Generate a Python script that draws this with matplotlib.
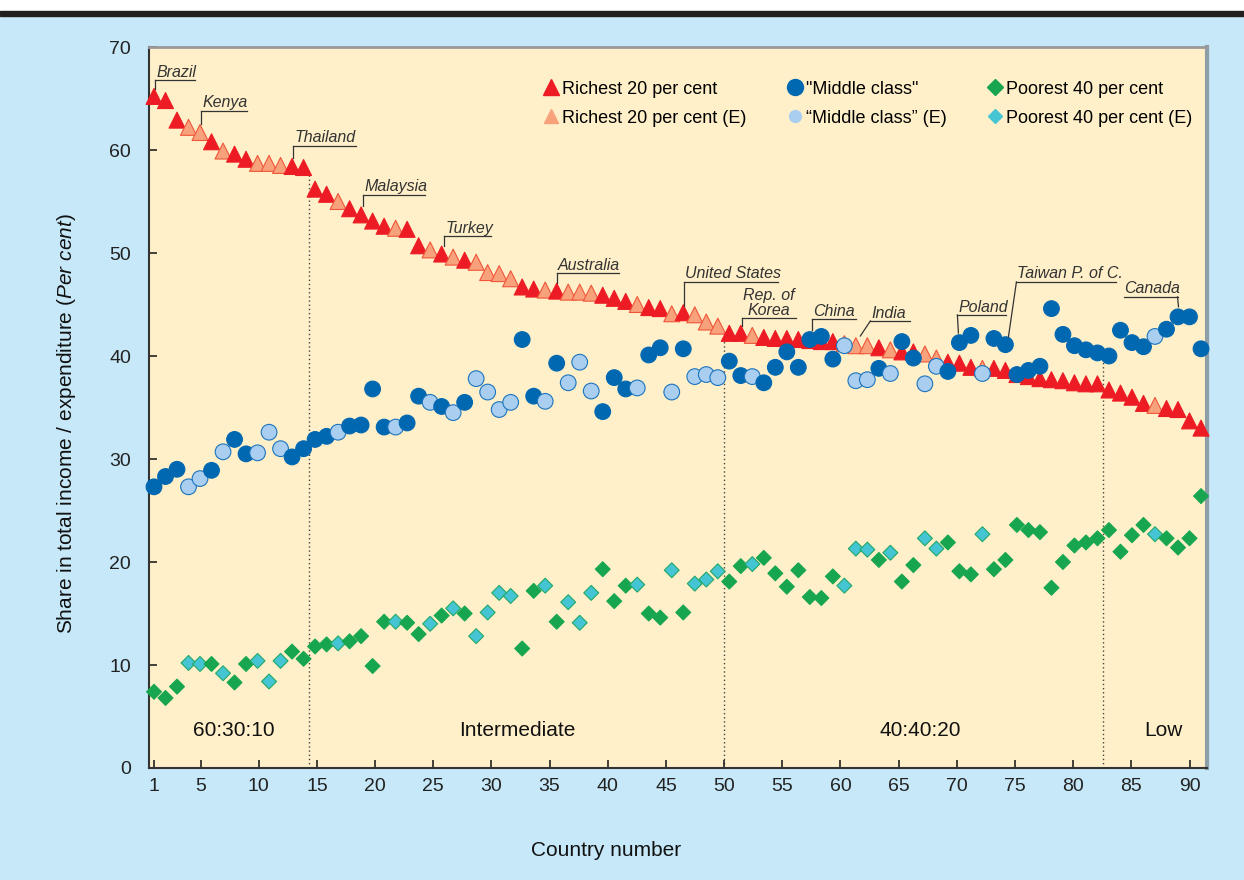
import matplotlib
matplotlib.use("Agg")
import matplotlib.pyplot as plt
import numpy as np
from matplotlib.lines import Line2D
from matplotlib.legend import Legend
from matplotlib.patches import Rectangle

plt.rcParams['font.family'] = ['Liberation Sans', 'DejaVu Sans']
plt.rcParams['mathtext.fontset'] = 'custom'
plt.rcParams['mathtext.rm'] = 'Liberation Sans'
plt.rcParams['mathtext.it'] = 'Liberation Sans:italic'

# shares in per cent, country 1..92 (sorted by share of richest 20%)
richest = [65.2, 64.8, 62.9, 62.2, 61.7, 60.8, 59.9, 59.6, 59.1, 58.7,
           58.7, 58.5, 58.4, 58.3, 56.2, 55.7, 55.0, 54.3, 53.7, 53.1,
           52.6, 52.4, 52.3, 50.7, 50.3, 49.9, 49.6, 49.3, 49.1, 48.1,
           48.0, 47.5, 46.7, 46.5, 46.4, 46.3, 46.2, 46.2, 46.1, 45.9,
           45.6, 45.3, 45.0, 44.7, 44.6, 44.1, 44.2, 44.0, 43.3, 42.9,
           42.2, 42.2, 42.0, 41.8, 41.7, 41.7, 41.6, 41.5, 41.4, 41.4,
           41.2, 41.0, 41.0, 40.8, 40.6, 40.4, 40.4, 40.2, 39.8, 39.4,
           39.3, 38.9, 38.8, 38.8, 38.6, 38.2, 38.0, 37.8, 37.7, 37.6,
           37.4, 37.3, 37.3, 36.7, 36.4, 36.0, 35.4, 35.2, 34.9, 34.8,
           33.7, 33.0]
middle = [27.3, 28.3, 29.0, 27.3, 28.1, 28.9, 30.7, 31.9, 30.5, 30.6,
          32.6, 31.0, 30.2, 31.0, 31.9, 32.2, 32.6, 33.2, 33.3, 36.8,
          33.1, 33.1, 33.5, 36.1, 35.5, 35.1, 34.5, 35.5, 37.8, 36.5,
          34.8, 35.5, 41.6, 36.1, 35.6, 39.3, 37.4, 39.4, 36.6, 34.6,
          37.9, 36.8, 36.9, 40.1, 40.8, 36.5, 40.7, 38.0, 38.2, 37.9,
          39.5, 38.1, 38.0, 37.4, 38.9, 40.4, 38.9, 41.6, 41.9, 39.7,
          41.0, 37.6, 37.7, 38.8, 38.3, 41.4, 39.8, 37.3, 39.0, 38.5,
          41.3, 42.0, 38.3, 41.7, 41.1, 38.2, 38.6, 39.0, 44.6, 42.1,
          41.0, 40.6, 40.3, 40.0, 42.5, 41.3, 40.9, 41.9, 42.6, 43.8,
          43.8, 40.7]
poorest = [7.4, 6.8, 7.9, 10.2, 10.1, 10.1, 9.2, 8.3, 10.1, 10.4,
           8.4, 10.4, 11.3, 10.6, 11.8, 12.0, 12.1, 12.3, 12.8, 9.9,
           14.2, 14.2, 14.1, 13.0, 14.0, 14.8, 15.5, 15.0, 12.8, 15.1,
           17.0, 16.7, 11.6, 17.2, 17.7, 14.2, 16.1, 14.1, 17.0, 19.3,
           16.2, 17.7, 17.8, 15.0, 14.6, 19.2, 15.1, 17.9, 18.3, 19.1,
           18.1, 19.6, 19.8, 20.4, 18.9, 17.6, 19.2, 16.6, 16.5, 18.6,
           17.7, 21.3, 21.2, 20.2, 20.9, 18.1, 19.7, 22.3, 21.3, 21.9,
           19.1, 18.8, 22.7, 19.3, 20.2, 23.6, 23.1, 22.9, 17.5, 20.0,
           21.6, 21.9, 22.3, 23.1, 21.0, 22.6, 23.6, 22.7, 22.3, 21.4,
           22.3, 26.4]
# countries whose figures refer to expenditure (E)
estimated = [4, 5, 7, 10, 11, 12, 17, 22, 25, 27, 29, 30, 31, 32, 35, 37, 38, 39,
             43, 46, 48, 49, 50, 53, 61, 62, 63, 65, 68, 69, 73, 88]
tick_labels = [1, 5, 10, 15, 20, 25, 30, 35, 40, 45, 50, 55, 60, 65, 70, 75, 80, 85, 90]
zone_breaks = [14.5, 50.5, 83.5]
zone_names = ["60:30:10", "Intermediate", "40:40:20", "Low"]
zone_label_x = [7.9, 32.6, 67.6, 88.7]

# named countries: (label, country, series, leader top, leader end, underline x-range) in px
tags = [
    ("Brazil", 1, "r", (1, 16), (1, 7.6), (1, 41)),
    ("Kenya", 5, "r", (1, 21.5), (1, 8.5), (1, 47)),
    ("Thailand", 13, "r", (1, 20.5), (1, 8.5), (1, 64)),
    ("Malaysia", 19, "r", (2, 20), (2, 9), (2, 64)),
    ("Turkey", 26, "r", (2.5, 18), (2.5, 8), (2.5, 49.5)),
    ("Australia", 36, "r", (0.5, 18), (0.5, 8), (0.5, 62.5)),
    ("United States", 47, "r", (1, 31), (1, 6.7), (1, 95)),
    ("Rep. of\nKorea", 52, "r", (1.5, 15.3), (1.5, 7.3), (1.5, 55.5)),
    ("China", 58, "r", (2.5, 21.5), (2.5, 10.5), (2.5, 46.5)),
    ("India", 62, "r", (14.5, 24.7), (4.5, 9.7), (14.5, 54.5)),
    ("Poland", 71, "m", (-2, 27.6), (-1, 9.6), (-2, 47)),
    ("Taiwan P. of C.", 75, "m", (11, 62.7), (3, 7.7), (11, 111)),
    ("Canada", 90, "m", (-0.5, 20), (0.5, 10), (-54.5, -0.5)),
]

country = np.arange(1, len(richest) + 1)
is_e = np.isin(country, estimated)

red, salmon, salmon_edge = "#ed1c24", "#f8a27c", "#f0553a"
blue, pale, pale_edge = "#0067b1", "#a9cef0", "#1c74bd"
green, cyan, cyan_edge = "#17a64f", "#45c5d3", "#22a868"

fig = plt.figure(figsize=(12.44, 8.8), dpi=100, facecolor="#c6e8f8")
fig.add_artist(Rectangle((0, 1 - 11 / 880), 1, 11 / 880, transform=fig.transFigure,
                         color="white", zorder=0))
fig.add_artist(Rectangle((0, 1 - 16 / 880), 1, 5 / 880, transform=fig.transFigure,
                         color="#231f20", zorder=0))

ax = fig.add_axes([149 / 1244, 1 - 768 / 880, 1058 / 1244, 721 / 880])
ax.set_facecolor("#fff0c9")
ax.set_xlim(0.565, 92.52)
ax.set_ylim(0, 70)


def draw(vals, marker, size, full, light, light_edge):
    face = [light if e else full for e in is_e]
    edge = [light_edge if e else full for e in is_e]
    ax.scatter(country, vals, s=size ** 2, marker=marker, c=face,
               edgecolors=edge, linewidths=0.8, zorder=3, clip_on=False)


draw(richest, "^", 11.5, red, salmon, salmon_edge)
draw(middle, "o", 11.3, blue, pale, pale_edge)
draw(poorest, "D", 7.6, green, cyan, cyan_edge)

# zone separators
for b in zone_breaks:
    k = int(b) - 1
    top = max(richest[k], middle[k]) - 0.7
    ax.vlines(b, 0, top, colors="#444444", linestyles=(0, (1, 2)), linewidth=1, zorder=1)

for name, x in zip(zone_names, zone_label_x):
    ax.text(x, 3.6, name, ha="center", va="center", fontsize=15, color="#111111")

# country labels with underline and leader
series = {"r": richest, "m": middle}
inv = ax.transData.inverted()
for label, n, key, top, end, under in tags:
    px, py = ax.transData.transform((n, series[key][n - 1]))
    a = (px + top[0], py + top[1])
    b = (px + end[0], py + end[1])
    u0 = (px + under[0], a[1])
    u1 = (px + under[1], a[1])
    pts = inv.transform([b, a, u0, u1])
    ax.plot(pts[:2, 0], pts[:2, 1], color="#333333", lw=0.9, clip_on=False, zorder=4)
    ax.plot(pts[2:, 0], pts[2:, 1], color="#333333", lw=0.9, clip_on=False, zorder=4)
    if "\n" in label:
        tx, ty = inv.transform(((u0[0] + u1[0]) / 2, a[1] + 0.5))
        ax.text(tx, ty, label, ha="center", va="bottom", fontsize=11.5, style="italic",
                color="#333333", linespacing=1.0, multialignment="center")
    else:
        tx, ty = inv.transform((u0[0] + 1, a[1] + 0.5))
        ax.text(tx, ty, label, ha="left", va="bottom", fontsize=11.5, style="italic",
                color="#333333")

# legend, three columns
cols = [
    [(Line2D([], [], ls="none", marker="^", ms=12, color=red), "Richest 20 per cent"),
     (Line2D([], [], ls="none", marker="^", ms=10, color=salmon), "Richest 20 per cent (E)")],
    [(Line2D([], [], ls="none", marker="o", ms=11.5, color=blue), '"Middle class"'),
     (Line2D([], [], ls="none", marker="o", ms=8.5, color=pale), "\u201cMiddle class\u201d (E)")],
    [(Line2D([], [], ls="none", marker="D", ms=8.5, color=green), "Poorest 40 per cent"),
     (Line2D([], [], ls="none", marker="D", ms=6.8, color=cyan), "Poorest 40 per cent (E)")],
]
for entries, x0 in zip(cols, [0.3715, 0.6016, 0.7911]):
    leg = Legend(ax, [h for h, _ in entries], [t for _, t in entries], loc="upper left",
                 bbox_to_anchor=(x0, 0.9535), frameon=False, fontsize=13,
                 handlelength=1.0, handletextpad=0.12, labelspacing=0.68,
                 borderpad=0, borderaxespad=0)
    ax.add_artist(leg)

ax.set_xticks([1 + (t - 1) * 90 / 89 for t in tick_labels])
ax.set_xticklabels([str(t) for t in tick_labels])
ax.set_yticks(np.arange(0, 71, 10))
ax.tick_params(axis="y", direction="in", length=6, width=1.2, pad=13, labelsize=14, colors="#222222")
ax.tick_params(axis="x", direction="in", length=6, width=1.2, pad=7, labelsize=14, colors="#222222")

ax.set_xlabel("Country number", fontsize=15, color="#111111")
ax.xaxis.set_label_coords(0.432, -0.101)
ax.set_ylabel(r"Share in total income / expenditure $\it{(Per\ cent)}$", fontsize=15, color="#111111")
ax.yaxis.set_label_coords(-0.067, 0.477)

for side in ["left", "bottom"]:
    ax.spines[side].set_color("#333333")
    ax.spines[side].set_linewidth(1.5)
ax.spines["top"].set_color("#9a9a9a")
ax.spines["top"].set_linewidth(2)
ax.spines["right"].set_color("#8e9ea6")
ax.spines["right"].set_linewidth(3)

fig.savefig("out.png", dpi=100, facecolor=fig.get_facecolor())
